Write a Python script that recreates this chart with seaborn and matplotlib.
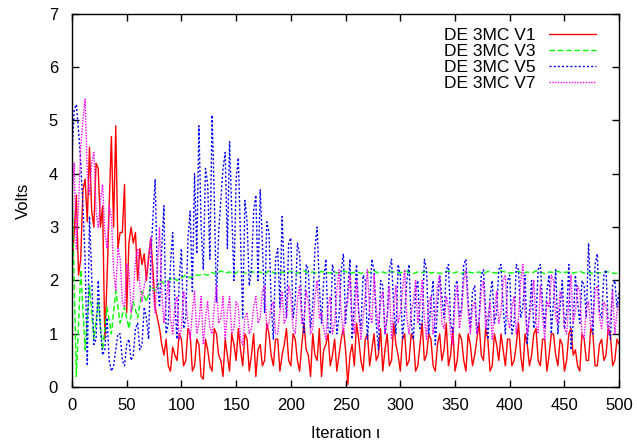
import numpy as np
import pandas as pd
import matplotlib
matplotlib.use("Agg")
import matplotlib.pyplot as plt
import seaborn as sns

# iteration index (V1, V5, V7 read every 2 iterations, V3 every 4)
iter_2 = np.arange(0, 501, 2)
iter_4 = np.arange(0, 501, 4)

v1 = [2.2, 2.9, 3.6, 2.1, 2.4, 3.7, 3.9, 3.1, 4.5, 3.3, 3.0, 4.2, 4.1, 3.0, 3.4, 0.9, 2.0, 3.4, 4.7, 3.0,
      4.9, 2.6, 2.9, 2.9, 3.8, 1.4, 2.7, 3.0, 2.7, 2.9, 2.0, 2.6, 2.3, 2.5, 2.0, 2.4, 2.8, 2.2, 1.5, 1.3,
      1.1, 0.8, 0.6, 0.9, 0.4, 0.3, 0.75, 0.6, 0.5, 1.0, 0.9, 0.4, 0.5, 1.1, 1.0, 0.3, 0.4, 0.9, 0.8, 0.2,
      0.15, 0.9, 0.7, 0.4, 0.3, 1.1, 1.0, 0.6, 0.5, 0.2, 0.9, 0.6, 0.3, 1.0, 0.8, 0.5, 1.1, 0.7, 0.4, 1.0,
      0.9, 0.3, 0.6, 1.0, 0.2, 0.7, 0.8, 0.4, 0.5, 1.2, 1.0, 0.6, 0.4, 0.9, 0.9, 0.3, 0.6, 0.8, 1.1, 0.5,
      0.4, 1.0, 0.9, 0.5, 0.3, 0.8, 1.2, 0.7, 0.6, 0.2, 1.0, 0.6, 0.5, 1.1, 0.2, 0.7, 0.8, 1.0, 0.4, 0.6,
      0.9, 0.3, 0.6, 0.9, 1.1, 0.7, 0.05, 0.6, 0.8, 0.4, 1.2, 0.9, 0.5, 0.3, 0.9, 1.0, 0.4, 0.7, 1.0, 0.5,
      0.6, 1.1, 0.3, 0.7, 1.0, 0.4, 0.5, 1.2, 0.8, 0.6, 0.3, 0.9, 1.0, 0.4, 0.5, 1.0, 0.9, 0.3, 0.4, 0.8,
      1.2, 0.5, 0.6, 1.0, 0.9, 0.4, 0.3, 0.8, 1.0, 0.5, 0.7, 1.2, 0.4, 0.6, 1.1, 0.3, 0.5, 1.0, 0.9, 0.5,
      0.3, 1.0, 0.8, 0.4, 0.6, 0.9, 1.2, 0.6, 0.5, 1.1, 0.9, 0.3, 0.4, 1.0, 0.8, 0.5, 1.0, 0.7, 0.4, 0.9,
      0.9, 0.4, 0.5, 0.8, 1.2, 0.6, 0.3, 1.0, 0.8, 0.4, 0.6, 1.0, 1.1, 0.5, 0.4, 0.9, 0.9, 0.3, 0.6, 1.0,
      1.0, 0.6, 0.4, 0.9, 0.8, 0.3, 0.5, 1.0, 1.1, 0.6, 0.7, 0.4, 0.3, 1.0, 0.9, 0.5, 0.5, 1.1, 1.0, 0.4,
      0.4, 0.8, 0.9, 0.5, 0.6, 1.1, 1.0, 0.4, 0.5, 0.9, 0.8]

v3 = [3.8, 0.2, 2.2, 0.7, 1.9, 0.9, 1.6, 0.7, 1.5, 1.0,
      1.8, 1.2, 1.5, 1.1, 1.6, 1.3, 1.8, 1.6, 1.9, 1.8,
      2.0, 1.95, 2.0, 2.05, 2.0, 2.05, 2.1, 2.05, 2.1, 2.1,
      2.12, 2.1, 2.15, 2.12, 2.18, 2.14, 2.16, 2.12, 2.17, 2.15,
      2.13, 2.17, 2.14, 2.16, 2.12, 2.18, 2.15, 2.13, 2.16, 2.14,
      2.17, 2.13, 2.15, 2.18, 2.14, 2.16, 2.13, 2.17, 2.15, 2.14,
      2.16, 2.13, 2.18, 2.15, 2.14, 2.17, 2.13, 2.16, 2.15, 2.18,
      2.14, 2.16, 2.13, 2.17, 2.15, 2.14, 2.18, 2.15, 2.13, 2.16,
      2.15, 2.17, 2.14, 2.16, 2.13, 2.15, 2.18, 2.14, 2.16, 2.13,
      2.17, 2.15, 2.14, 2.16, 2.13, 2.17, 2.15, 2.14, 2.18, 2.16,
      2.14, 2.15, 2.17, 2.13, 2.16, 2.14, 2.18, 2.15, 2.13, 2.16,
      2.15, 2.17, 2.14, 2.16, 2.13, 2.15, 2.17, 2.14, 2.16, 2.13,
      2.15, 2.14, 2.17, 2.15, 2.13, 2.14]

v5 = [4.3, 5.2, 5.3, 4.8, 4.2, 3.4, 2.4, 0.4, 3.2, 2.1, 0.8, 0.9, 2.0, 1.1, 0.6, 0.7, 1.3, 0.5, 0.3, 0.4,
      0.7, 1.0, 1.0, 0.5, 0.4, 0.8, 0.9, 0.5, 0.6, 1.1, 1.2, 0.7, 0.8, 1.5, 1.3, 0.9, 2.4, 3.2, 3.9, 2.0,
      1.5, 2.6, 3.4, 1.0, 1.2, 2.3, 2.9, 1.6, 0.9, 2.0, 2.6, 1.1, 1.3, 2.8, 3.3, 1.8, 4.0, 2.5, 4.9, 3.0,
      2.2, 4.1, 3.8, 2.4, 5.1, 3.6, 1.6, 2.9, 3.5, 4.1, 4.4, 2.6, 4.6, 3.3, 2.0, 3.9, 4.3, 2.8, 1.3, 3.5,
      3.1, 1.9, 2.2, 3.3, 3.6, 2.0, 3.7, 2.7, 1.4, 3.1, 2.9, 1.6, 0.9, 2.4, 2.6, 1.5, 3.2, 2.1, 1.3, 2.7,
      2.8, 1.3, 1.6, 2.7, 2.5, 1.4, 1.0, 2.3, 2.2, 1.1, 1.5, 2.6, 3.0, 1.9, 1.2, 2.0, 2.4, 1.1, 1.0, 2.3,
      2.1, 1.0, 1.3, 2.2, 2.5, 1.2, 1.8, 2.4, 0.9, 1.6, 2.3, 1.4, 1.1, 2.1, 2.0, 0.9, 1.5, 2.4, 2.2, 1.2,
      0.7, 2.0, 1.9, 1.0, 1.3, 2.2, 2.4, 1.5, 1.0, 2.3, 2.1, 0.9, 1.4, 2.0, 2.3, 1.2, 0.9, 1.8, 2.0, 1.1,
      1.2, 2.4, 2.2, 1.0, 1.6, 2.0, 0.8, 1.5, 2.1, 1.7, 1.3, 2.2, 2.3, 1.2, 1.0, 1.9, 2.0, 1.3, 1.5, 2.3,
      2.4, 1.6, 1.1, 1.8, 1.9, 1.0, 1.3, 2.1, 2.2, 1.4, 0.9, 1.7, 2.0, 1.2, 1.4, 2.2, 2.3, 1.5, 1.0, 2.0,
      2.1, 1.0, 1.2, 2.3, 2.2, 1.3, 1.5, 2.1, 0.8, 1.4, 2.0, 1.1, 1.3, 2.2, 2.3, 1.6, 1.1, 1.8, 2.1, 1.0,
      1.6, 2.2, 1.0, 1.5, 2.0, 1.1, 1.4, 2.3, 0.7, 1.2, 2.1, 1.6, 1.2, 2.0, 1.9, 1.3, 2.7, 1.8, 1.0, 2.3,
      2.5, 1.4, 1.3, 2.1, 2.2, 1.1, 0.9, 1.9, 2.0, 1.5, 1.8]

v7 = [3.5, 4.2, 2.6, 3.4, 4.5, 5.0, 5.4, 4.0, 3.6, 4.2, 4.4, 3.3, 3.0, 3.5, 3.8, 2.9, 2.6, 3.4, 3.2, 2.2,
      1.8, 2.6, 2.4, 1.6, 1.5, 2.3, 2.2, 1.4, 1.7, 2.4, 2.6, 1.9, 1.6, 1.9, 2.1, 2.5, 2.8, 1.8, 1.4, 2.2,
      3.0, 1.8, 1.2, 1.6, 2.0, 1.3, 1.0, 1.5, 1.7, 0.9, 1.1, 1.8, 1.6, 1.2, 0.9, 1.4, 1.8, 1.0, 1.2, 1.7,
      0.8, 1.3, 1.6, 1.1, 1.0, 1.5, 1.9, 1.2, 1.3, 1.7, 0.9, 1.4, 1.7, 1.0, 1.1, 1.6, 1.5, 0.9, 0.8, 1.3,
      1.4, 1.0, 1.1, 1.5, 1.7, 1.2, 1.3, 1.8, 1.9, 1.1, 1.2, 1.5, 1.6, 1.0, 1.0, 1.4, 1.8, 1.2, 1.3, 1.9,
      1.7, 1.1, 1.0, 1.6, 1.9, 1.2, 1.3, 1.8, 1.6, 1.0, 1.1, 1.7, 2.0, 1.3, 1.4, 1.1, 0.9, 1.5, 1.7, 1.0,
      1.2, 1.8, 2.2, 1.4, 1.0, 1.5, 1.6, 2.1, 1.3, 1.0, 2.0, 1.4, 0.9, 1.3, 1.7, 2.2, 1.4, 1.2, 2.1, 1.5,
      1.1, 1.6, 1.8, 1.0, 1.3, 1.9, 0.9, 1.5, 1.9, 1.2, 1.4, 1.8, 2.2, 1.3, 1.0, 1.4, 1.6, 2.0, 1.2, 1.5,
      2.0, 1.3, 0.9, 1.6, 1.7, 1.0, 1.3, 1.9, 2.1, 1.2, 1.1, 1.7, 1.5, 1.0, 0.8, 1.6, 1.9, 1.1, 1.4, 2.0,
      2.2, 1.4, 1.0, 1.5, 1.6, 1.0, 1.2, 1.8, 2.0, 1.1, 1.3, 1.6, 0.9, 1.4, 1.8, 1.2, 1.4, 2.0, 2.1, 1.3,
      1.1, 1.5, 1.7, 1.0, 1.3, 2.0, 2.3, 1.4, 1.0, 1.3, 1.6, 2.0, 1.2, 1.0, 1.9, 1.3, 0.9, 1.6, 1.5, 2.1,
      2.0, 1.3, 1.2, 1.8, 1.7, 1.1, 1.0, 1.6, 2.1, 1.2, 1.4, 1.9, 1.8, 1.0, 0.9, 1.5, 1.6, 1.1, 1.2, 1.8,
      1.9, 1.3, 1.1, 1.6, 1.5, 1.0, 1.3, 1.8, 1.0, 1.4, 1.6]

nomes = ['DE 3MC V1', 'DE 3MC V3', 'DE 3MC V5', 'DE 3MC V7']

df = pd.concat([
    pd.DataFrame({'iter': x, 'volts': v, 'serie': n})
    for x, v, n in zip([iter_2, iter_4, iter_2, iter_2], [v1, v3, v5, v7], nomes)
])

cores = {'DE 3MC V1': '#ff0000', 'DE 3MC V3': '#00ff00',
         'DE 3MC V5': '#0000ff', 'DE 3MC V7': '#ff00ff'}
tracos = {'DE 3MC V1': '', 'DE 3MC V3': (4, 2),
          'DE 3MC V5': (1.5, 1.5), 'DE 3MC V7': (1, 1)}

sns.set_style('ticks')
plt.rcParams['font.family'] = ['Liberation Sans', 'DejaVu Sans']
plt.rcParams['text.color'] = 'black'
plt.rcParams['axes.labelcolor'] = 'black'

fig = plt.figure(figsize=(6.37, 4.45), dpi=100)
ax = fig.add_axes([0.113, 0.130, 0.859, 0.839])

sns.lineplot(data=df, x='iter', y='volts', hue='serie', style='serie',
             palette=cores, dashes=tracos, hue_order=nomes, style_order=nomes,
             linewidth=1, ax=ax)

ax.set_xlim(0, 500)
ax.set_ylim(0, 7)
ax.set_xticks(range(0, 501, 50))
ax.set_yticks(range(0, 8))
ax.tick_params(direction='in', length=5, width=1, top=True, right=True,
               labelsize=12, colors='black')
ax.tick_params(axis='y', pad=10)
ax.tick_params(axis='x', pad=8)
for s in ax.spines.values():
    s.set_linewidth(1)
    s.set_color('black')

ax.set_xlabel('Iteration ι', fontsize=12, labelpad=9)
ax.set_ylabel('Volts', fontsize=12, labelpad=13)

leg = ax.legend(loc='upper right', bbox_to_anchor=(0.98, 0.995), frameon=False,
                markerfirst=False, fontsize=12.5, handlelength=2.7,
                labelspacing=0.05, borderaxespad=0.3, handletextpad=0.8)
for t in leg.get_texts():
    t.set_color('black')

fig.savefig('out.png', dpi=100)
